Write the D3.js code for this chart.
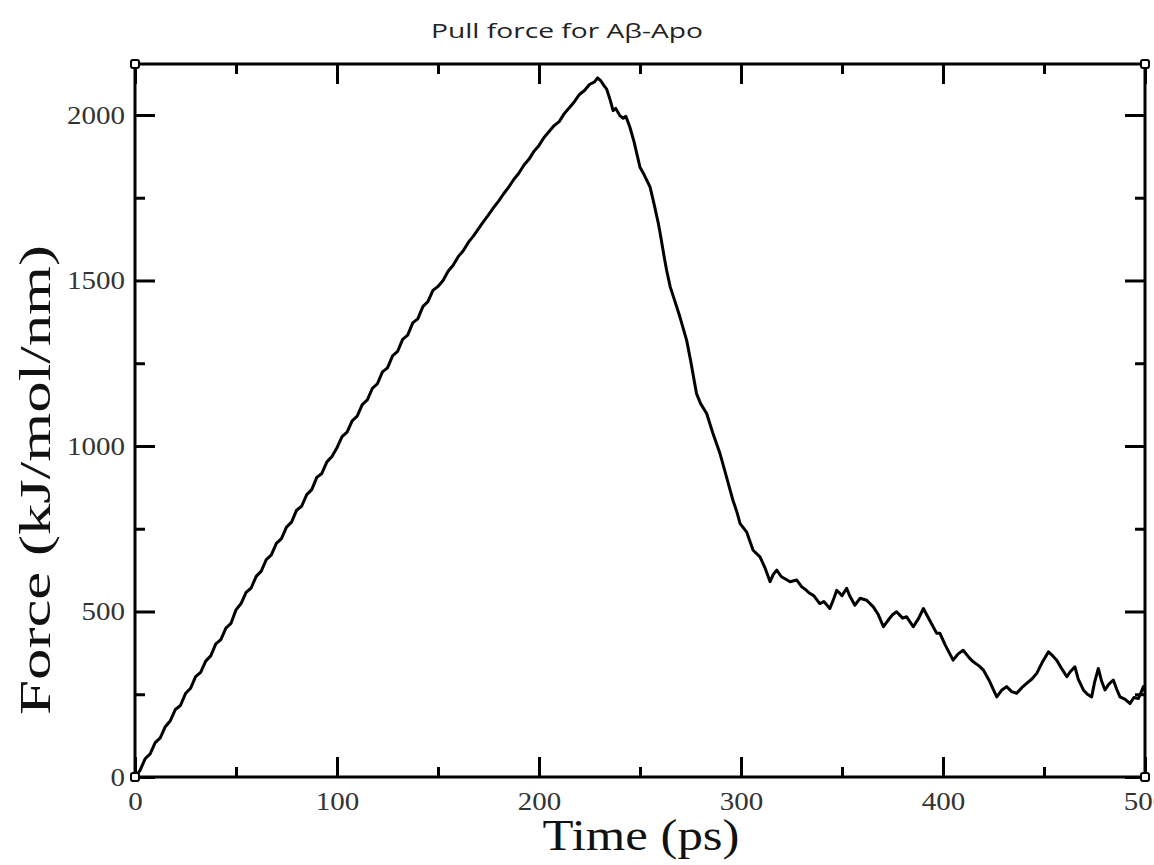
<!DOCTYPE html>
<html lang="en">
<head>
    <meta charset="UTF-8">
    <title>Pull force for Aβ-Apo</title>
    <style>
        body {
            margin: 0;
            padding: 0;
            background: #fff;
        }

        .tick text {
            font-family: "Liberation Serif", "Times New Roman", serif;
            fill: #333;
        }

        .tick line {
            stroke: #000;
            stroke-width: 3;
        }
    </style>
</head>
<body>
<svg id="chart" width="1154" height="865"></svg>

<script src="https://d3js.org/d3.v7.min.js"></script>
<script>
    // time (ps) and pull force (kJ/mol/nm)
    var timePs = [
        0, 2.5, 5, 7.5, 10, 12.5, 15, 17.5, 20, 22.5, 25, 27.5, 30, 32.5, 35, 37.5, 40, 42.5, 45, 47.5,
        50, 52.5, 55, 57.5, 60, 62.5, 65, 67.5, 70, 72.5, 75, 77.5, 80, 82.5, 85, 87.5, 90, 92.5, 95, 97.5,
        100, 102.5, 105, 107.5, 110, 112.5, 115, 117.5, 120, 122.5, 125, 127.5, 130, 132.5, 135, 137.5, 140, 142.5, 145, 147.5,
        150, 152.5, 155, 157.5, 160, 162.5, 165, 167.5, 170, 172.5, 175, 177.5, 180, 182.5, 185, 187.5, 190, 192.5, 195, 197.5,
        200, 202.5, 205, 207.5, 210, 212.5, 215, 217.5, 220, 222.5, 225, 227.5, 229, 230.5, 232, 233.5, 235, 236.7, 238, 240,
        241.7, 243, 245, 247, 249, 250, 252, 254, 255, 257, 259, 260, 262, 263.2, 265, 268.2, 270, 273.1, 275, 278,
        280, 283, 286, 289.6, 292, 294, 296, 298, 299.5, 302.8, 306, 309.4, 312, 314.4, 316, 317.7, 320, 322, 324.3, 327.6,
        330, 332, 334, 336, 339, 341, 344, 346, 347.4, 350, 352.3, 354, 356.4, 359, 362.2, 365.5, 368, 370.5, 373, 375,
        377, 380, 382, 385.3, 388, 390.3, 393, 396.9, 398.5, 401, 405, 407.5, 410, 413, 415, 418, 420, 423, 425, 426.6,
        429, 431.5, 434, 436.5, 439, 441.4, 444, 446.4, 449, 452.2, 454, 456.3, 459, 461.3, 463, 465.3, 467, 469.5, 471.5, 473.6,
        475, 476.9, 478.5, 480.2, 482, 484.3, 486, 487.6, 490, 492.6, 494.5, 496.7, 498, 499.2, 500
    ];
    var forceKJ = [
        0, 20, 55, 70, 104, 118, 152, 170, 204, 216, 252, 268, 303, 316, 350, 366, 402, 415, 450, 464,
        505, 524, 558, 571, 606, 622, 657, 671, 706, 720, 755, 770, 806, 818, 853, 868, 905, 917, 952, 968,
        995, 1028, 1042, 1076, 1090, 1125, 1139, 1174, 1188, 1224, 1236, 1272, 1286, 1322, 1335, 1372, 1384, 1421, 1436, 1470,
        1482, 1500, 1528, 1546, 1572, 1590, 1615, 1634, 1656, 1678, 1698, 1720, 1740, 1762, 1782, 1805, 1824, 1848, 1866, 1890,
        1908, 1932, 1950, 1968, 1980, 2004, 2022, 2040, 2062, 2074, 2092, 2100, 2112, 2104, 2090, 2078, 2050, 2013, 2020, 1998,
        1990, 1996, 1963, 1920, 1868, 1842, 1820, 1795, 1782, 1730, 1675, 1642, 1570, 1530, 1480, 1420, 1385, 1319, 1260, 1158,
        1128, 1098, 1040, 977, 925, 880, 836, 800, 766, 740, 685, 665, 630, 590, 612, 625, 605, 598, 590, 595,
        575, 566, 555, 548, 524, 530, 509, 540, 564, 548, 570, 545, 519, 540, 534, 514, 490, 454, 475, 490,
        499, 480, 484, 454, 480, 509, 478, 434, 434, 400, 353, 372, 383, 360, 348, 335, 323, 290, 263, 242,
        262, 273, 258, 253, 270, 283, 296, 313, 345, 378, 368, 353, 325, 303, 318, 333, 295, 263, 250, 242,
        285, 328, 290, 263, 280, 293, 265, 242, 235, 222, 240, 237, 255, 273, 260
    ];

    var xMajor = [0, 100, 200, 300, 400, 500];
    var xMinor = [50, 150, 250, 350, 450];
    var yMajor = [0, 500, 1000, 1500, 2000];
    var yMinor = [250, 750, 1250, 1750];

    var plotL = 135, plotR = 1145, plotT = 64, plotB = 777;

    var svg = d3.select("#chart");

    var x = d3.scaleLinear().domain([0, 500]).range([plotL, plotR]);
    var y = d3.scaleLinear().domain([0, 2154]).range([plotB, plotT]);

    function stretch(sel, perChar) {
        sel.selectAll("text")
            .attr("textLength", function () {
                return this.textContent.length * perChar;
            })
            .attr("lengthAdjust", "spacingAndGlyphs");
    }

    // bottom axis, ticks pointing in
    var gx = svg.append("g")
        .attr("transform", "translate(0," + plotB + ")")
        .call(d3.axisBottom(x).tickValues(xMajor).tickSize(-20).tickPadding(15).tickFormat(d3.format("d")));
    gx.selectAll("text").style("font-size", "26px");
    stretch(gx, 14.5);

    svg.append("g")
        .attr("transform", "translate(0," + plotB + ")")
        .call(d3.axisBottom(x).tickValues(xMinor).tickSize(-10).tickFormat(""));

    // top axis mirror
    svg.append("g")
        .attr("transform", "translate(0," + plotT + ")")
        .call(d3.axisTop(x).tickValues(xMajor).tickSize(-20).tickFormat(""));
    svg.append("g")
        .attr("transform", "translate(0," + plotT + ")")
        .call(d3.axisTop(x).tickValues(xMinor).tickSize(-10).tickFormat(""));

    // left axis
    var gy = svg.append("g")
        .attr("transform", "translate(" + plotL + ",0)")
        .call(d3.axisLeft(y).tickValues(yMajor).tickSize(-20).tickPadding(10).tickFormat(d3.format("d")));
    gy.selectAll("text").style("font-size", "26px");
    stretch(gy, 14.5);

    svg.append("g")
        .attr("transform", "translate(" + plotL + ",0)")
        .call(d3.axisLeft(y).tickValues(yMinor).tickSize(-10).tickFormat(""));

    // right axis mirror
    svg.append("g")
        .attr("transform", "translate(" + plotR + ",0)")
        .call(d3.axisRight(y).tickValues(yMajor).tickSize(-20).tickFormat(""));
    svg.append("g")
        .attr("transform", "translate(" + plotR + ",0)")
        .call(d3.axisRight(y).tickValues(yMinor).tickSize(-10).tickFormat(""));

    svg.selectAll(".domain").remove();

    // frame
    svg.append("rect")
        .attr("x", plotL)
        .attr("y", plotT)
        .attr("width", plotR - plotL)
        .attr("height", plotB - plotT)
        .attr("fill", "none")
        .attr("stroke", "#000")
        .attr("stroke-width", 3);

    // force curve
    var line = d3.line()
        .x(function (d, i) { return x(timePs[i]); })
        .y(function (d) { return y(d); });

    svg.append("path")
        .datum(forceKJ)
        .attr("d", line)
        .attr("fill", "none")
        .attr("stroke", "#000")
        .attr("stroke-width", 3)
        .attr("stroke-linejoin", "round");

    // little corner markers
    [[plotL, plotT], [plotR, plotT], [plotL, plotB], [plotR, plotB]].forEach(function (c) {
        svg.append("rect")
            .attr("x", c[0] - 4)
            .attr("y", c[1] - 4)
            .attr("width", 8)
            .attr("height", 8)
            .attr("rx", 2)
            .attr("fill", "#fff")
            .attr("stroke", "#000")
            .attr("stroke-width", 2);
    });

    // titles
    svg.append("text")
        .attr("x", 567)
        .attr("y", 38)
        .attr("text-anchor", "middle")
        .attr("textLength", 272)
        .attr("lengthAdjust", "spacingAndGlyphs")
        .style("font-family", "'Open Sans', 'Noto Sans', sans-serif")
        .style("font-size", "20px")
        .style("fill", "#222")
        .text("Pull force for Aβ-Apo");

    svg.append("text")
        .attr("x", 641)
        .attr("y", 850)
        .attr("text-anchor", "middle")
        .attr("textLength", 197)
        .attr("lengthAdjust", "spacingAndGlyphs")
        .style("font-family", "'Liberation Serif', 'Times New Roman', serif")
        .style("font-size", "45px")
        .style("fill", "#111")
        .text("Time (ps)");

    svg.append("text")
        .attr("transform", "translate(50,480) rotate(-90)")
        .attr("text-anchor", "middle")
        .attr("textLength", 470)
        .attr("lengthAdjust", "spacingAndGlyphs")
        .style("font-family", "'Liberation Serif', 'Times New Roman', serif")
        .style("font-size", "45px")
        .style("fill", "#111")
        .text("Force (kJ/mol/nm)");
</script>
</body>
</html>
